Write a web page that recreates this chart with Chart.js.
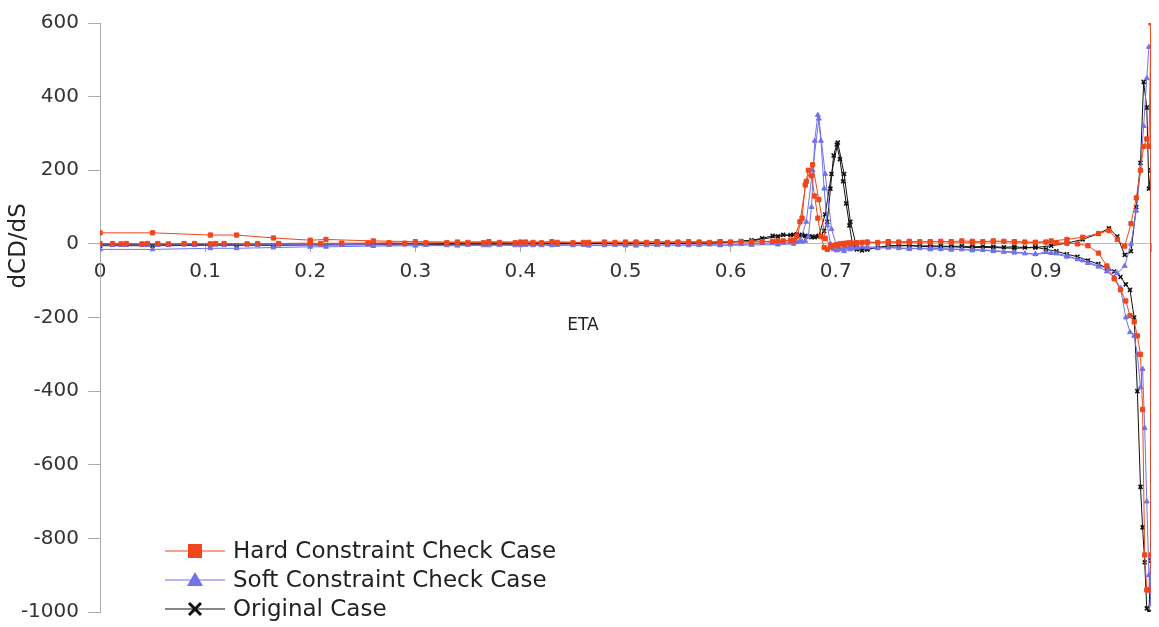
<!DOCTYPE html>
<html>
<head>
<meta charset="utf-8">
<script src="https://cdn.jsdelivr.net/npm/chart.js@4.4.0/dist/chart.umd.min.js"></script>
<style>
  html, body { margin: 0; padding: 0; background: #fff; }
  #wrap { width: 1159px; height: 627px; position: relative; }
</style>
</head>
<body>
<div id="wrap"><canvas id="myChart"></canvas></div>
<script>
"use strict";

// ETA stations, first pass (0 -> 1) and second pass (written 0 -> 1, drawn back 1 -> 0)
const etaA = [0, 0.05, 0.105, 0.13, 0.165, 0.2, 0.215, 0.26, 0.3, 0.34,
  0.37, 0.4, 0.43, 0.46, 0.5, 0.53, 0.56, 0.59, 0.62, 0.645,
  0.66, 0.666, 0.672, 0.678, 0.684, 0.69, 0.696, 0.702, 0.708, 0.714,
  0.72, 0.73, 0.75, 0.77, 0.79, 0.81, 0.83, 0.85, 0.87, 0.89,
  0.905, 0.92, 0.935, 0.95, 0.96, 0.968, 0.975, 0.981, 0.986, 0.99,
  0.993, 0.996, 0.998, 1.0];

const etaB = [0, 0.012, 0.02, 0.025, 0.04, 0.045, 0.055, 0.065, 0.08, 0.09,
  0.105, 0.11, 0.118, 0.14, 0.15, 0.17, 0.2, 0.21, 0.23, 0.255,
  0.275, 0.29, 0.31, 0.33, 0.35, 0.365, 0.38, 0.395, 0.405, 0.412,
  0.42, 0.435, 0.45, 0.465, 0.48, 0.49, 0.5, 0.51, 0.52, 0.53,
  0.54, 0.55, 0.56, 0.57, 0.58, 0.59, 0.6, 0.61, 0.62, 0.63,
  0.64, 0.65, 0.657, 0.663, 0.668, 0.671, 0.674, 0.677, 0.68, 0.683,
  0.686, 0.689, 0.692, 0.695, 0.698, 0.701, 0.704, 0.707, 0.71, 0.713,
  0.716, 0.72, 0.725, 0.73, 0.74, 0.75, 0.76, 0.77, 0.78, 0.79,
  0.8, 0.81, 0.82, 0.83, 0.84, 0.85, 0.86, 0.87, 0.88, 0.89,
  0.9, 0.91, 0.92, 0.93, 0.94, 0.95, 0.958, 0.965, 0.971, 0.976,
  0.98, 0.984, 0.987, 0.99, 0.992, 0.994, 0.996, 0.998, 1.0];

// dCD/dS, Hard Constraint Check Case
const hardA = [30, 30, 24, 24, 16, 10, 12, 8, 6, 5,
  6, 5, 6, 4, 5, 6, 5, 6, 5, 8,
  10, 60, 170, 215, 120, 15, -8, -5, -2, 0,
  2, 4, 5, 4, 6, 5, 4, 6, 5, 4,
  8, 12, 18, 28, 36, 12, -6, 55, 125, 200,
  265, 285, 265, 600];
const hardB = [1, 1, 0, 1, 0, 1, 1, 0, 1, 1,
  0, 1, 1, 0, 1, 1, 2, 1, 2, 2,
  3, 2, 3, 3, 4, 3, 4, 3, 5, 4,
  3, 4, 3, 4, 5, 4, 3, 5, 4, 5,
  4, 5, 6, 5, 4, 6, 5, 6, 5, 6,
  7, 8, 10, 20, 70, 160, 200, 185, 130, 70,
  20, -10, -15, -8, -4, -2, 0, 1, 2, 3,
  2, 3, 4, 5, 4, 6, 5, 7, 6, 5,
  7, 6, 8, 7, 6, 8, 7, 6, 5, 4,
  5, 3, 2, 0, -5, -25, -60, -95, -125, -155,
  -195, -212, -250, -300, -450, -845, -940, -940, -845];

// dCD/dS, Soft Constraint Check Case
const softA = [-15, -15, -12, -12, -10, -8, -8, -6, -5, -5,
  -4, -4, -4, -3, -4, -3, -3, -4, -3, -2,
  0, 8, 60, 200, 340, 190, 40, -15, -20, -15,
  -10, -8, -10, -12, -12, -14, -15, -18, -22, -28,
  -25, -35, -45, -60, -68, -80, -60, 0, 90, 200,
  320, 450, 535, 535];
const softB = [-3, -3, -3, -3, -3, -3, -3, -3, -2, -3,
  -3, -2, -3, -2, -3, -2, -2, -3, -2, -2,
  -3, -2, -3, -4, -3, -4, -3, -4, -3, -4,
  -4, -3, -4, -5, -4, -3, -4, -5, -4, -3,
  -4, -3, -4, -3, -2, -3, -2, -1, 0, 2,
  3, 4, 5, 5, 6, 8, 20, 100, 280, 350,
  280, 150, 50, 0, -15, -18, -15, -12, -10, -10,
  -12, -10, -8, -10, -12, -10, -12, -14, -12, -15,
  -14, -16, -15, -18, -17, -20, -22, -24, -26, -28,
  -22, -26, -32, -42, -52, -62, -75, -90, -120, -200,
  -240, -250, -300, -390, -340, -500, -700, -900, -980];

// dCD/dS, Original Case
const origA = [-5, -5, -4, -4, -4, -3, -3, -2, -2, -1,
  -1, 0, 0, 1, 0, 1, 2, 3, 8, 20,
  25, 22, 20, 20, 22, 80, 190, 275, 190, 60,
  -10, -15, -5, -5, -8, -8, -10, -10, -12, -10,
  -5, 2, 12, 28, 42, 20, -30, -20, 100, 220,
  440, 370, 150, 200];
const origB = [-2, -2, -2, -2, -2, -2, -1, -2, -1, -2,
  -1, -1, -2, -1, -1, -1, -1, 0, -1, 0,
  0, 1, 0, 1, 0, 1, 0, 0, 1, 0,
  1, 0, 1, 0, 2, 1, 0, 1, 2, 1,
  2, 1, 2, 3, 2, 4, 5, 8, 10, 15,
  22, 25, 24, 26, 25, 22, 20, 18, 18, 20,
  22, 35, 60, 150, 240, 270, 230, 170, 110, 50,
  0, -15, -18, -15, -10, -6, -5, -4, -6, -5,
  -6, -7, -6, -8, -7, -8, -9, -8, -10, -9,
  -15, -20, -28, -35, -45, -55, -65, -75, -90, -110,
  -125, -200, -400, -660, -770, -865, -990, -1000, -860];

const seriesNames = ["Hard Constraint Check Case", "Soft Constraint Check Case", "Original Case"];
const yTicks = [-1000, -800, -600, -400, -200, 0, 200, 400, 600];
const xTitle = "ETA";
const yTitle = "dCD/dS";

// one path: first pass out to the tip, second pass back to the root
function buildPath(valsA, valsB) {
  let out = etaA.map((x, i) => ({ x: x, y: valsA[i] }));
  let back = etaB.map((x, i) => ({ x: x, y: valsB[i] })).reverse();
  return out.concat(back);
}

const RED = "#f0461c";
const BLUE = "#7272ea";
const BLACK = "#111111";
const FONT = '"DejaVu Sans", sans-serif';

// axis titles and legend drawn by hand (both sit off-centre in the original)
const extras = {
  id: "extras",
  afterDraw(chart) {
    const ctx = chart.ctx;
    const area = chart.chartArea;
    const zeroY = chart.scales.y.getPixelForValue(0);
    ctx.save();
    ctx.fillStyle = "#222";
    ctx.textAlign = "center";
    ctx.textBaseline = "middle";
    ctx.font = "17px " + FONT;
    ctx.fillText(xTitle, 583, zeroY + 82);
    ctx.save();
    ctx.translate(19, zeroY + 2);
    ctx.rotate(-Math.PI / 2);
    ctx.font = "23px " + FONT;
    ctx.fillText(yTitle, 0, 0);
    ctx.restore();

    chart.data.datasets.forEach((ds, i) => {
      const cy = area.bottom - 61 + i * 29;
      const x0 = area.left + 65;
      const cx = x0 + 30;
      ctx.strokeStyle = ds.borderColor;
      ctx.lineWidth = 1.2;
      ctx.beginPath();
      ctx.moveTo(x0, cy);
      ctx.lineTo(x0 + 60, cy);
      ctx.stroke();
      ctx.fillStyle = ds.backgroundColor;
      if (ds.pointStyle === "rect") {
        ctx.fillRect(cx - 7, cy - 7, 14, 14);
      } else if (ds.pointStyle === "triangle") {
        ctx.beginPath();
        ctx.moveTo(cx, cy - 8);
        ctx.lineTo(cx + 8, cy + 6);
        ctx.lineTo(cx - 8, cy + 6);
        ctx.closePath();
        ctx.fill();
      } else {
        ctx.lineWidth = 3;
        ctx.beginPath();
        ctx.moveTo(cx - 6, cy - 6);
        ctx.lineTo(cx + 6, cy + 6);
        ctx.moveTo(cx + 6, cy - 6);
        ctx.lineTo(cx - 6, cy + 6);
        ctx.stroke();
      }
      ctx.fillStyle = "#222";
      ctx.font = "23px " + FONT;
      ctx.textBaseline = "middle";
      ctx.textAlign = "left";
      ctx.fillText(ds.label, x0 + 68, cy + 1);
    });
    ctx.restore();
  }
};

const data = {
  datasets: [
    {
      label: seriesNames[0],
      data: buildPath(hardA, hardB),
      borderColor: RED,
      backgroundColor: RED,
      borderWidth: 1,
      pointStyle: "rect",
      pointRadius: 3,
      pointBorderWidth: 1,
      showLine: true,
    },
    {
      label: seriesNames[1],
      data: buildPath(softA, softB),
      borderColor: BLUE,
      backgroundColor: BLUE,
      borderWidth: 1,
      pointStyle: "triangle",
      pointRadius: 2.8,
      pointBorderWidth: 1,
      showLine: true,
    },
    {
      label: seriesNames[2],
      data: buildPath(origA, origB),
      borderColor: BLACK,
      backgroundColor: BLACK,
      borderWidth: 1,
      pointStyle: "crossRot",
      pointRadius: 2.8,
      pointBorderWidth: 1.6,
      showLine: true,
    },
  ],
};

const config = {
  type: "scatter",
  data: data,
  options: {
    responsive: true,
    maintainAspectRatio: false,
    animation: false,
    layout: { padding: { top: 23, right: 2, bottom: 15, left: 0 } },
    elements: { line: { tension: 0 } },
    plugins: {
      legend: { display: false },
      tooltip: { enabled: false },
    },
    scales: {
      x: {
        type: "linear",
        min: 0,
        max: 1,
        position: { y: 0 }, // axis line crosses at dCD/dS = 0
        grid: { drawOnChartArea: false, tickLength: 8, color: "#aaa" },
        border: { color: "#bbb" },
        ticks: {
          stepSize: 0.1,
          padding: 8,
          color: "#333",
          font: { family: FONT, size: 20 },
          callback: (v) => (v >= 0.999 ? "" : Number(v.toFixed(1)).toString()),
        },
      },
      y: {
        type: "linear",
        min: yTicks[0],
        max: yTicks[yTicks.length - 1],
        afterFit: (scale) => {
          scale.width = 100;
          scale.paddingTop = 0;
          scale.paddingBottom = 0;
        },
        afterBuildTicks: (scale) => { scale.ticks = yTicks.map(v => ({ value: v })); },
        grid: { drawOnChartArea: false, tickLength: 12, color: "#aaa" },
        border: { color: "#aaa" },
        ticks: {
          padding: 9,
          color: "#333",
          font: { family: FONT, size: 20 },
          callback: (v) => String(v),
        },
      },
    },
  },
  plugins: [extras],
};

const myChart = new Chart(document.getElementById("myChart"), config);
</script>
</body>
</html>
